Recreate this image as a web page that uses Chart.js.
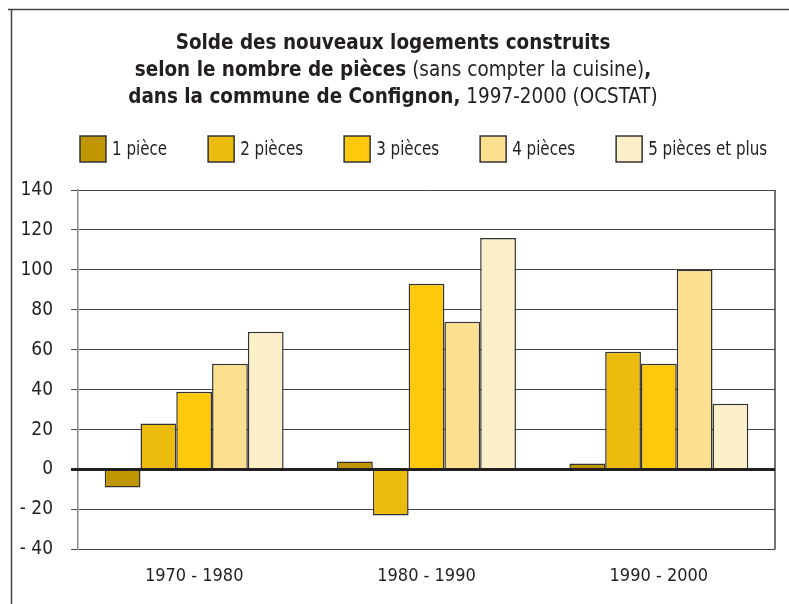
<!DOCTYPE html>
<html>
<head>
<meta charset="utf-8">
<script src="https://cdn.jsdelivr.net/npm/chart.js@4.4.1/dist/chart.umd.min.js"></script>
<style>
    html, body { margin: 0; padding: 0; background: #fff; }
    #wrap { position: relative; width: 789px; height: 604px; }
</style>
</head>
<body>
<div id="wrap"><canvas id="chart"></canvas></div>
<script>
var FONT = '"Liberation Sans Narrow", "DejaVu Sans Condensed", "Arial Narrow", sans-serif';

// Data (OCSTAT, Confignon)
var periods = ['1970 - 1980', '1980 - 1990', '1990 - 2000'];
var seriesNames = ['1 pièce', '2 pièces', '3 pièces', '4 pièces', '5 pièces et plus'];
var onePiece = [-9, 4, 3];
var twoPieces = [23, -23, 59];
var threePieces = [39, 93, 53];
var fourPieces = [53, 74, 100];
var fivePlus = [69, 116, 33];
var seriesColors = ['#bf9502', '#ebbb0d', '#fec90a', '#fde08f', '#fdefc7'];

// title, as [text, bold] pieces per line
var titleLines = [
    [['Solde des nouveaux logements construits', true]],
    [['selon le nombre de pièces', true], [' (sans compter la cuisine)', false], [',', true]],
    [['dans la commune de Confignon,', true], [' 1997-2000 (OCSTAT)', false]]
];

function font(size, bold) {
    return (bold ? 'bold ' : '') + size + 'px ' + FONT;
}

// the original uses a condensed face, squeeze the text a bit
function narrowText(ctx, text, x, y, sx) {
    ctx.save();
    ctx.translate(x, y);
    ctx.scale(sx, 1);
    ctx.fillText(text, 0, 0);
    ctx.restore();
    return ctx.measureText(text).width * sx;
}

var decorations = {
    id: 'decorations',
    beforeDraw: function (chart) {
        var ctx = chart.ctx;
        ctx.save();

        // outer frame, only top and left edges are in the picture
        ctx.strokeStyle = '#444';
        ctx.lineWidth = 1.5;
        ctx.beginPath();
        ctx.moveTo(8, 9.5);
        ctx.lineTo(chart.width, 9.5);
        ctx.moveTo(11.5, 9);
        ctx.lineTo(11.5, chart.height);
        ctx.stroke();

        // title
        var TSX = 0.93;
        ctx.fillStyle = '#231f20';
        ctx.textBaseline = 'alphabetic';
        ctx.textAlign = 'left';
        var baselines = [49, 76, 103];
        titleLines.forEach(function (line, i) {
            var total = 0;
            line.forEach(function (seg) {
                ctx.font = font(22, seg[1]);
                total += ctx.measureText(seg[0]).width * TSX;
            });
            var x = 393 - total / 2;
            line.forEach(function (seg) {
                ctx.font = font(22, seg[1]);
                x += narrowText(ctx, seg[0], x, baselines[i], TSX);
            });
        });

        // legend
        var lx = 80;
        ctx.font = font(20, false);
        ctx.textBaseline = 'middle';
        chart.data.datasets.forEach(function (ds) {
            ctx.fillStyle = ds.backgroundColor;
            ctx.fillRect(lx, 136, 26, 26);
            ctx.strokeStyle = '#333';
            ctx.lineWidth = 1.5;
            ctx.strokeRect(lx, 136, 26, 26);
            ctx.fillStyle = '#231f20';
            var w = narrowText(ctx, ds.label, lx + 32, 150, 0.84);
            lx += 32 + w + 41;
        });

        ctx.restore();
    },
    afterDatasetsDraw: function (chart) {
        var ctx = chart.ctx;
        var area = chart.chartArea;
        var y0 = chart.scales.y.getPixelForValue(0);
        ctx.save();
        // right edge of the plot
        ctx.strokeStyle = '#444';
        ctx.lineWidth = 1.5;
        ctx.beginPath();
        ctx.moveTo(area.right, area.top);
        ctx.lineTo(area.right, area.bottom);
        ctx.stroke();
        // zero line sits on top of the bars
        ctx.strokeStyle = '#231f20';
        ctx.lineWidth = 3;
        ctx.beginPath();
        ctx.moveTo(area.left - 7, y0);
        ctx.lineTo(area.right, y0);
        ctx.stroke();
        ctx.restore();
    }
};

var values = [onePiece, twoPieces, threePieces, fourPieces, fivePlus];
var datasets = values.map(function (v, i) {
    return {
        label: seriesNames[i],
        data: v,
        backgroundColor: seriesColors[i],
        borderColor: '#333',
        borderWidth: 1.5,
        categoryPercentage: 0.77,
        barPercentage: 1.0
    };
});

new Chart(document.getElementById('chart'), {
    type: 'bar',
    data: {
        labels: periods,
        datasets: datasets
    },
    options: {
        responsive: true,
        maintainAspectRatio: false,
        animation: false,
        layout: {
            padding: { top: 190, right: 14, bottom: 1, left: 0 }
        },
        plugins: {
            legend: { display: false },
            title: { display: false },
            tooltip: { enabled: false }
        },
        scales: {
            x: {
                grid: { display: false, drawTicks: false },
                border: { display: false },
                ticks: {
                    padding: 16,
                    color: '#231f20',
                    font: { family: FONT, size: 18 }
                }
            },
            y: {
                min: -40,
                max: 140,
                afterFit: function (scale) {
                    scale.width = 78;
                },
                border: { display: true, color: '#888', width: 1.5 },
                grid: {
                    color: '#444',
                    lineWidth: function (c) {
                        return c.tick && c.tick.value === 0 ? 3 : 1;
                    },
                    tickLength: 7
                },
                ticks: {
                    stepSize: 20,
                    padding: 18,
                    color: '#231f20',
                    font: { family: FONT, size: 19 },
                    callback: function (v) {
                        return v < 0 ? '- ' + Math.abs(v) : v;
                    }
                }
            }
        }
    },
    plugins: [decorations]
});
</script>
</body>
</html>
